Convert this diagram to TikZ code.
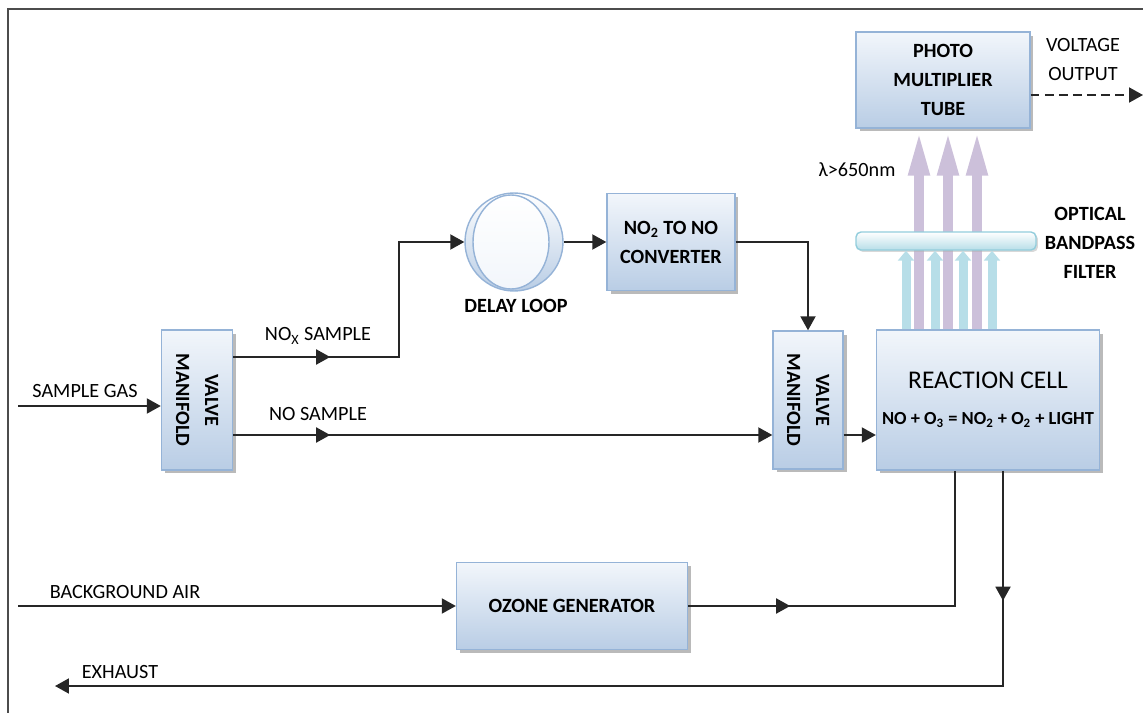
\documentclass[tikz,border=0pt]{standalone}
\usepackage{fontspec}
\setmainfont{Carlito}
\usetikzlibrary{
  positioning,
  arrows.meta,
  calc,
  shadows,
  decorations.markings
}
\definecolor{boxtop}{HTML}{F2F6FB}
\definecolor{boxbot}{HTML}{B9CDE5}
\definecolor{boxline}{HTML}{95B3D7}
\definecolor{violetray}{HTML}{CCC0DA}
\definecolor{cyanray}{HTML}{B7DEE8}
\definecolor{filterline}{HTML}{92CDDC}
\newcommand{\subx}[1]{\textsubscript{#1}}

\begin{document}
\begin{tikzpicture}[
    x=0.02cm, y=-0.02cm, >={Triangle[width=0.3cm,length=0.28cm]},
    font=\fontsize{11.5}{16.5}\selectfont,
    unit/.style={
      rectangle,
      draw=boxline,
      line width=0.8pt,
      top color=boxtop,
      bottom color=boxbot,
      drop shadow={shadow xshift=0.07cm,shadow yshift=-0.07cm,fill=black!45,opacity=0.6},
      inner sep=0pt,
      align=center,
      font=\fontsize{11.5}{16.5}\selectfont\bfseries
    },
    bold/.style={align=center,font=\fontsize{11.5}{16.5}\selectfont\bfseries},
    flow/.style={draw=black!85,line width=1.1pt},
    midarrow/.style={postaction={decorate},
      decoration={markings,mark=at position #1 with {\arrow{>}}}},
    pmtray/.style={draw=violetray,line width=0.2cm,
      -{Triangle[width=0.38cm,length=0.94cm]}},
    cellray/.style={draw=cyanray,line width=0.18cm,
      -{Triangle[width=0.32cm,length=0.2cm]}},
    filter/.style={
      rectangle,
      rounded corners=0.1cm,
      draw=filterline,
      line width=0.8pt,
      top color=white,
      bottom color=cyanray,
      drop shadow={shadow xshift=0.04cm,shadow yshift=-0.04cm,fill=black!30,opacity=0.5},
      minimum width=3.6cm,
      minimum height=0.36cm
    }
  ]
  \useasboundingbox (0,0) rectangle (1143,713);

  \begin{scope}
    \draw[line width=1.2pt,black!70] (8,713) -- (8,9) -- (1143,9);

    \node[unit,minimum width=3.48cm,minimum height=1.92cm] (pmt) at (943,80) {PHOTO\\MULTIPLIER\\TUBE};
    \node[unit,minimum width=4.46cm,minimum height=2.8cm] (cell) at (988,400)
      {{\fontsize{14.5}{17}\selectfont\mdseries REACTION CELL}\\[4pt]
       {\fontsize{10.5}{14}\selectfont NO + O\subx{3} = NO\subx{2} + O\subx{2} + LIGHT}};
    \node[unit,minimum width=1.4cm,minimum height=2.76cm] (rvm) at (808,400) {};
    \node[unit,minimum width=1.42cm,minimum height=2.8cm] (lvm) at (197,400) {};
    \node[unit,minimum width=2.56cm,minimum height=1.94cm] (conv) at (671,242) {NO\subx{2} TO NO\\CONVERTER};
    \node[unit,minimum width=4.62cm,minimum height=1.74cm] (ozone) at (572,606) {OZONE GENERATOR};

    \node[bold,rotate=-90] (rvmtext) at (rvm) {VALVE\\MANIFOLD};
    \node[bold,rotate=-90] (lvmtext) at (lvm) {VALVE\\MANIFOLD};

    \node[circle,draw=boxline,line width=0.8pt,top color=white,bottom color=boxbot,
      minimum size=1.96cm,inner sep=0pt] (loop) at (514,242) {};
    \draw[boxline,line width=0.8pt,top color=white,bottom color=boxtop]
      ($(loop.center)+(-3,0)$) ellipse (0.76cm and 0.94cm);
    \node[bold] (looplbl) at (516,306) {DELAY LOOP};

    \foreach \x in {919,948,977}
      \draw[pmtray] (\x,0 |- cell.north) -- (\x,0 |- pmt.south);
    \node[filter] (filt) at (946,241) {};
    \foreach \x in {906,935,963,992}
      \draw[cellray] (\x,0 |- cell.north) -- (\x,0 |- filt.south);

    \node (lambdalbl) at (857,170) {λ>650nm};
    \node[align=center] (voltlbl) at (1083,60) {VOLTAGE\\OUTPUT};
    \node[bold] (filtlbl) at (1090,243) {OPTICAL\\BANDPASS\\FILTER};
    \node (gaslbl) at (85,391) {SAMPLE GAS};
    \node (noxlbl) at (318,336) {NO\subx{X} SAMPLE};
    \node (nolbl) at (318,414) {NO SAMPLE};
    \node (airlbl) at (125,592) {BACKGROUND AIR};
    \node (exhlbl) at (120,672) {EXHAUST};

    \coordinate (gasin) at (18,406);
    \coordinate (airin) at (18,606);
    \coordinate (exhout) at (55,686);
    \coordinate (vout) at (1143,95);

    \draw[flow,->] (gasin) -- (gasin -| lvm.west);
    \draw[flow,->,midarrow=1.94cm] ($(lvm.east)+(0,-43)$) -| ($(loop.west)+(-65,0)$) -- (loop.west);
    \draw[flow,->,midarrow=1.94cm] ($(lvm.east)+(0,35)$) -- ($(rvm.west)+(0,35)$);
    \draw[flow,->] (loop) -- (conv);
    \draw[flow,->] (conv) -| (rvm);
    \draw[flow,->] ($(rvm.east)+(0,35)$) -- ($(cell.west)+(0,35)$);
    \draw[flow,->] (airin) -- (airin -| ozone.west);
    \draw[flow,midarrow=2.04cm] (ozone) -| ($(cell.south)+(-33,0)$);
    \draw[flow,->,midarrow=2.6cm] ($(cell.south)+(15,0)$) |- (exhout);
    \draw[flow,dash pattern=on 5pt off 3pt,->] ($(pmt.east)+(0,15)$) -- (vout);
  \end{scope}
\end{tikzpicture}
\end{document}
